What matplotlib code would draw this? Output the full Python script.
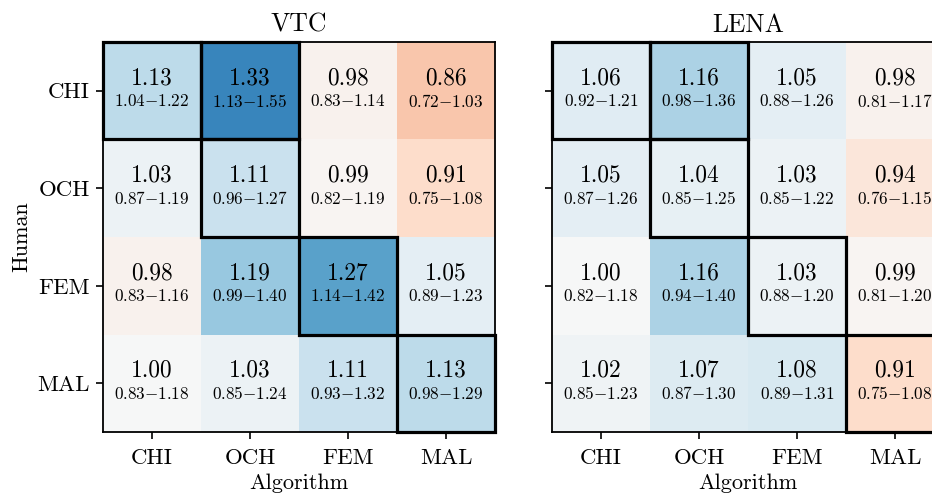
import numpy as np
import matplotlib
matplotlib.use("Agg")
import matplotlib.pyplot as plt
from matplotlib.colors import Normalize
from matplotlib.patches import Rectangle

plt.rcParams['font.family'] = 'cmr10'
plt.rcParams['mathtext.fontset'] = 'cm'
plt.rcParams['axes.unicode_minus'] = False

speakers = ["CHI", "OCH", "FEM", "MAL"]

# rows = human, cols = algorithm
vtc_est = [[1.13, 1.33, 0.98, 0.86],
	[1.03, 1.11, 0.99, 0.91],
	[0.98, 1.19, 1.27, 1.05],
	[1.00, 1.03, 1.11, 1.13]]
vtc_low = [[1.04, 1.13, 0.83, 0.72],
	[0.87, 0.96, 0.82, 0.75],
	[0.83, 0.99, 1.14, 0.89],
	[0.83, 0.85, 0.93, 0.98]]
vtc_high = [[1.22, 1.55, 1.14, 1.03],
	[1.19, 1.27, 1.19, 1.08],
	[1.16, 1.40, 1.42, 1.23],
	[1.18, 1.24, 1.32, 1.29]]

lena_est = [[1.06, 1.16, 1.05, 0.98],
	[1.05, 1.04, 1.03, 0.94],
	[1.00, 1.16, 1.03, 0.99],
	[1.02, 1.07, 1.08, 0.91]]
lena_low = [[0.92, 0.98, 0.88, 0.81],
	[0.87, 0.85, 0.85, 0.76],
	[0.82, 0.94, 0.88, 0.81],
	[0.85, 0.87, 0.89, 0.75]]
lena_high = [[1.21, 1.36, 1.26, 1.17],
	[1.26, 1.25, 1.22, 1.15],
	[1.18, 1.40, 1.20, 1.20],
	[1.23, 1.30, 1.31, 1.08]]

# cells with the thick frame (row, col)
boxed = [(0, 0), (0, 1), (1, 1), (2, 2), (3, 3)]

norm = Normalize(vmin=0.5, vmax=1.5)

fig = plt.figure(figsize=(9.32, 4.98), dpi=100)
ax1 = fig.add_axes([0.1105, 0.1325, 0.4206, 0.7832])
ax2 = fig.add_axes([0.5923, 0.1325, 0.4206, 0.7832])


def draw(ax, title, est, low, high, ylabels):
	est = np.array(est)
	ax.pcolormesh(est, cmap="RdBu", norm=norm)
	ax.set_xlim(0, 4)
	ax.set_ylim(4, 0)
	for i in range(4):
		for j in range(4):
			ax.text(j + 0.5, i + 0.37, "{:.2f}".format(est[i][j]), ha="center", va="center",
				fontsize=16.8)
			ax.text(j + 0.5, i + 0.61, r"${:.2f}{{-}}{:.2f}$".format(low[i][j], high[i][j]),
				ha="center", va="center", fontsize=12.3)
	for (i, j) in boxed:
		ax.add_patch(Rectangle((j, i), 1, 1, fill=False, edgecolor="black", lw=2.3,
			clip_on=False, zorder=5))
	ax.set_xticks(np.arange(4) + 0.5)
	ax.set_xticklabels(speakers, fontsize=16.5)
	ax.set_yticks(np.arange(4) + 0.5)
	if ylabels:
		ax.set_yticklabels(speakers, fontsize=16.5)
		ax.set_ylabel("Human", fontsize=16)
	else:
		ax.set_yticklabels([])
	ax.set_xlabel("Algorithm", fontsize=16, labelpad=4)
	ax.set_title(title, fontsize=18.5, pad=7.5)
	ax.tick_params(length=5, width=1.2)
	ax.tick_params(axis="x", pad=6.5)
	ax.tick_params(axis="y", pad=4.5)
	for s in ax.spines.values():
		s.set_linewidth(1.3)


draw(ax1, "VTC", vtc_est, vtc_low, vtc_high, True)
draw(ax2, "LENA", lena_est, lena_low, lena_high, False)

fig.savefig("out.png", dpi=100)
